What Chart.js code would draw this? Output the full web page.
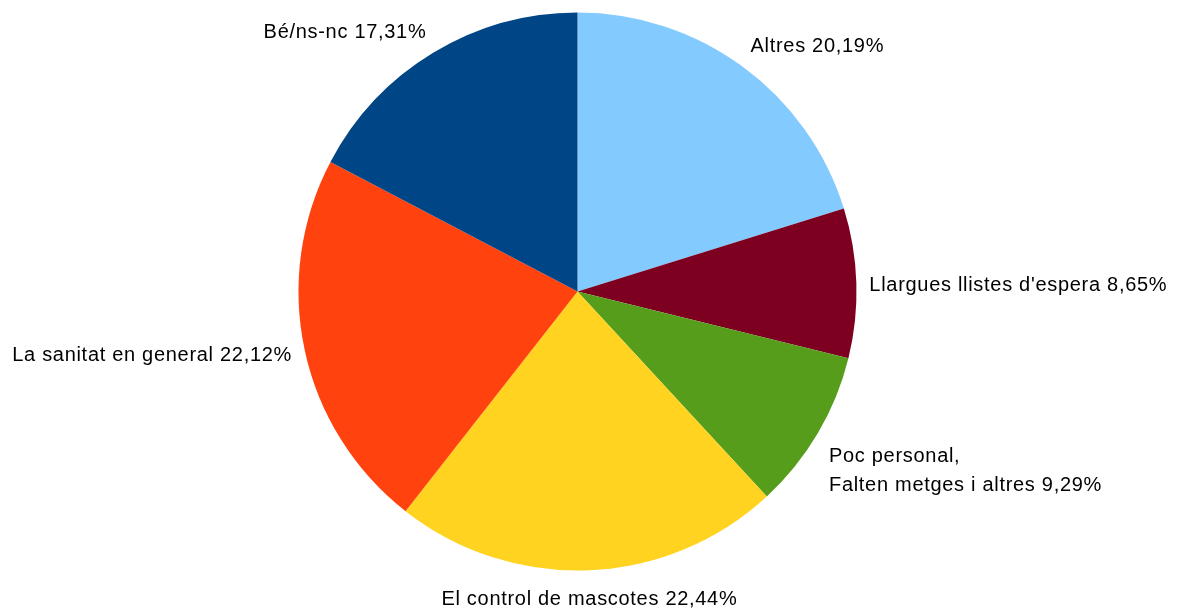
<!DOCTYPE html>
<html>
<head>
<meta charset="utf-8">
<script src="https://cdn.jsdelivr.net/npm/chart.js@4/dist/chart.umd.min.js"></script>
<style>
  html, body { margin: 0; padding: 0; background: #ffffff; }
  #wrap { width: 1180px; height: 610px; position: relative; }
</style>
</head>
<body>
<div id="wrap"><canvas id="c" width="1180" height="610"></canvas></div>
<script>
const categories = [
  "Altres",
  "Llargues llistes d'espera",
  "Poc personal,\nFalten metges i altres",
  "El control de mascotes",
  "La sanitat en general",
  "Bé/ns-nc"
];
const values = [20.19, 8.65, 9.29, 22.44, 22.12, 17.31];
const valueLabels = ["20,19%", "8,65%", "9,29%", "22,44%", "22,12%", "17,31%"];
const colors = ["#83CAFF", "#7E0021", "#579D1C", "#FFD320", "#FF420E", "#004586"];

const FONT = "20px 'Liberation Sans', Arial, sans-serif";
const LINE_H = 29;
const BOX_H = 23;
const GAP = 13;

const labelPlugin = {
  id: 'outLabels',
  afterDatasetsDraw(chart) {
    const ctx = chart.ctx;
    const meta = chart.getDatasetMeta(0);
    ctx.save();
    ctx.font = FONT;
    if ('letterSpacing' in ctx) ctx.letterSpacing = '0.7px';
    ctx.fillStyle = '#000000';
    meta.data.forEach((arc, i) => {
      const mid = (arc.startAngle + arc.endAngle) / 2;
      const r = arc.outerRadius + GAP;
      const dx = Math.cos(mid), dy = Math.sin(mid);
      const x = arc.x + dx * r;
      const y = arc.y + dy * r;
      const lines = (categories[i] + ' ' + valueLabels[i]).split('\n');
      const align = dx > 0.3 ? 'left' : (dx < -0.3 ? 'right' : 'center');
      const blockH = (lines.length - 1) * LINE_H + BOX_H;
      let top;
      if (dy < -0.3) top = y - blockH + 2;
      else if (dy > 0.3) top = y + 5;
      else top = y - blockH / 2 + 3;
      ctx.textAlign = align;
      ctx.textBaseline = 'middle';
      lines.forEach((ln, k) => {
        ctx.fillText(ln, x, top + BOX_H / 2 + k * LINE_H);
      });
    });
    ctx.restore();
  }
};

new Chart(document.getElementById('c'), {
  type: 'pie',
  data: {
    labels: categories,
    datasets: [{
      data: values,
      backgroundColor: colors,
      borderWidth: 0,
      hoverOffset: 0
    }]
  },
  options: {
    responsive: false,
    animation: false,
    layout: { padding: { top: 12.5, bottom: 39.5, left: 298.5, right: 323.5 } },
    plugins: {
      legend: { display: false },
      tooltip: { enabled: false }
    }
  },
  plugins: [labelPlugin]
});
</script>
</body>
</html>
